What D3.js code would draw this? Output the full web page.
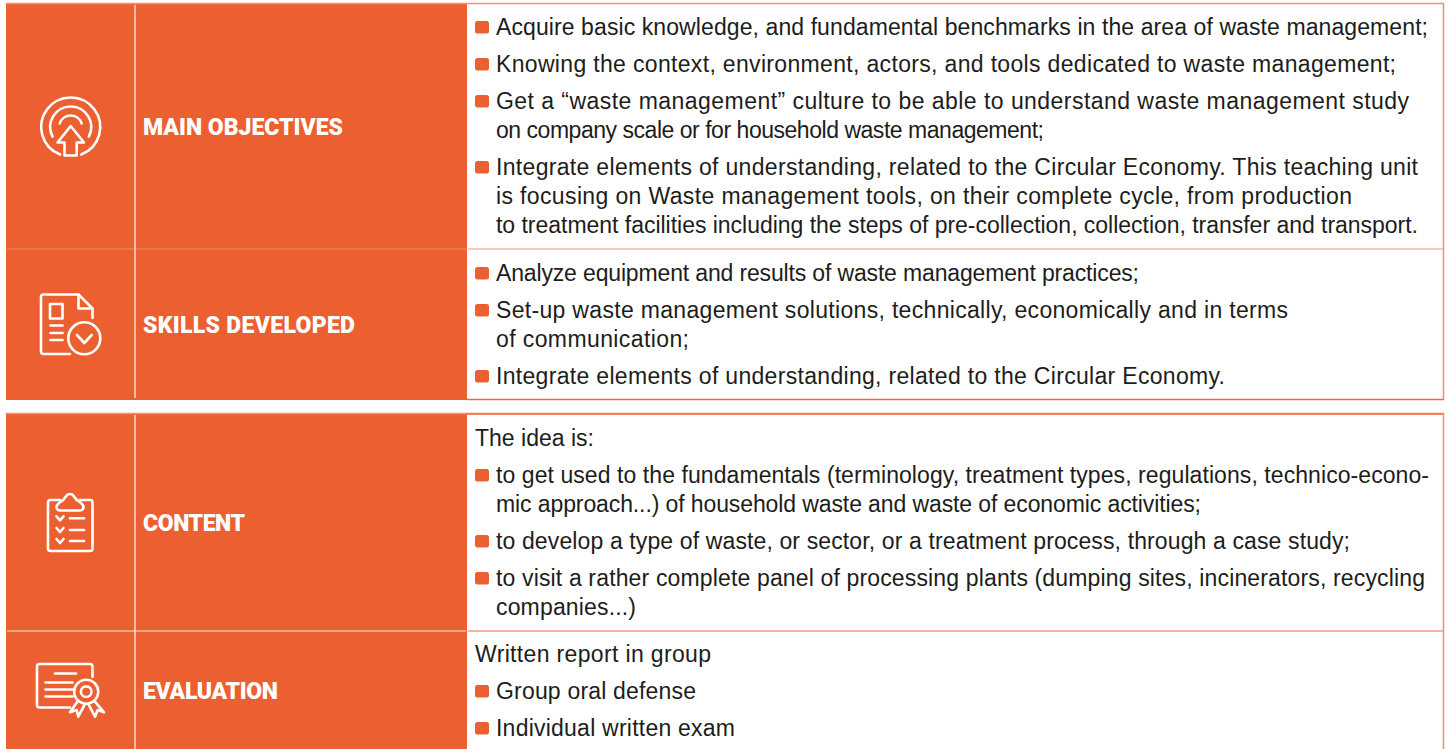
<!DOCTYPE html>
<html>
<head>
<meta charset="utf-8">
<script src="https://cdnjs.cloudflare.com/ajax/libs/d3/7.8.5/d3.min.js"></script>
<style>
  html, body { margin: 0; padding: 0; background: #fff; }
  svg { display: block; }
  .body-line { font-family: "Liberation Sans", sans-serif; font-size: 23px; fill: #1d1d1b; }
  .row-label { font-family: Roboto, sans-serif; font-weight: 900; font-size: 23px; fill: #fff; }
  .icon * { fill: none; stroke: #fff; stroke-width: 2.6; stroke-linecap: round; stroke-linejoin: round; }
</style>
</head>
<body>
<svg id="chart"></svg>
<script>
const containerWidth = 1450;
const containerHeight = 749;

const orange = "#ec5f31";
const borderLight = "#f29272";

// row labels, top to bottom
const rowLabels = ["MAIN OBJECTIVES", "SKILLS DEVELOPED", "CONTENT", "EVALUATION"];
const labelEnds = [343, 355, 245, 278];

// one list per row
const objectivesLines = [
  "Acquire basic knowledge, and fundamental benchmarks in the area of waste management;",
  "Knowing the context, environment, actors, and tools dedicated to waste management;",
  "Get a “waste management” culture to be able to understand waste management study",
  "on company scale or for household waste management;",
  "Integrate elements of understanding, related to the Circular Economy. This teaching unit",
  "is focusing on Waste management tools, on their complete cycle, from production",
  "to treatment facilities including the steps of pre-collection, collection, transfer and transport."
];
const skillsLines = [
  "Analyze equipment and results of waste management practices;",
  "Set-up waste management solutions, technically, economically and in terms",
  "of communication;",
  "Integrate elements of understanding, related to the Circular Economy."
];
const contentLines = [
  "The idea is:",
  "to get used to the fundamentals (terminology, treatment types, regulations, technico-econo-",
  "mic approach...) of household waste and waste of economic activities;",
  "to develop a type of waste, or sector, or a treatment process, through a case study;",
  "to visit a rather complete panel of processing plants (dumping sites, incinerators, recycling",
  "companies...)"
];
const evaluationLines = [
  "Written report in group",
  "Group oral defense",
  "Individual written exam"
];

// b = bullet paragraph start, c = continuation line, p = plain paragraph without bullet
const objectivesKinds = ["b", "b", "b", "c", "b", "c", "c"];
const skillsKinds = ["b", "b", "c", "b"];
const contentKinds = ["p", "b", "c", "b", "b", "c"];
const evaluationKinds = ["p", "b", "b"];

// right end of each line as measured on the picture
const objectivesEnds = [1428, 1396, 1409, 1044, 1418, 1352, 1418];
const skillsEnds = [1139, 1288, 689, 1225];
const contentEnds = [594, 1429, 1201, 1350, 1425, 636];
const evaluationEnds = [711, 696, 735];

const rowLines = [objectivesLines, skillsLines, contentLines, evaluationLines];
const rowKinds = [objectivesKinds, skillsKinds, contentKinds, evaluationKinds];
const rowEnds = [objectivesEnds, skillsEnds, contentEnds, evaluationEnds];

// layout
const rowTops = [4, 249, 414, 631];
const rowBottoms = [249, 400, 631, 749];
const firstLineY = [27, 273, 438, 654];
const labelY = [127, 325, 523, 691];
const col = {left: 6, icon: 135, label: 467, right: 1443};
const linePitch = 29;
const paraGap = 8;

const svg = d3.select("#chart")
  .attr("width", containerWidth)
  .attr("height", containerHeight);

// orange blocks
svg.selectAll("rect.block")
  .data(rowLabels)
  .join("rect")
  .attr("class", "block")
  .attr("x", col.left)
  .attr("y", (d, i) => rowTops[i])
  .attr("width", col.label - col.left)
  .attr("height", (d, i) => rowBottoms[i] - rowTops[i])
  .attr("fill", orange);

// outer frames of the two tables
[[4, 400], [414, 749]].forEach(([top, bottom]) => {
  svg.append("path")
    .attr("d", `M${col.left - 0.5},${top - 0.5}H${col.right + 0.5}V${bottom}`)
    .attr("fill", "none")
    .attr("stroke", borderLight)
    .attr("stroke-width", 1.6);
});
svg.append("line")
  .attr("x1", col.label).attr("x2", col.right + 1)
  .attr("y1", 399.5).attr("y2", 399.5)
  .attr("stroke", "#ee693c").attr("stroke-width", 1.6);
svg.append("line")
  .attr("x1", col.label).attr("x2", col.right)
  .attr("y1", 414).attr("y2", 414)
  .attr("stroke", "#f46a3c").attr("stroke-width", 1.4);

// row separators on the text side
[[249, borderLight], [631, "#f4693a"]].forEach(([y, c]) => {
  svg.append("line")
    .attr("x1", col.label + 1).attr("x2", col.right)
    .attr("y1", y).attr("y2", y)
    .attr("stroke", c).attr("stroke-width", 1.2);
});
// row separators inside the orange part
[[249, "#f08a68"], [631, "#fbe3da"]].forEach(([y, c]) => {
  svg.append("line")
    .attr("x1", col.left + 1).attr("x2", col.label - 1)
    .attr("y1", y).attr("y2", y)
    .attr("stroke", c).attr("stroke-width", 1.2);
});
// white rule between icon and label
[[5, 398], [415, 749]].forEach(([top, bottom]) => {
  svg.append("line")
    .attr("x1", col.icon).attr("x2", col.icon)
    .attr("y1", top).attr("y2", bottom)
    .attr("stroke", "#fbe3da").attr("stroke-width", 1.4);
});

svg.selectAll("text.row-label")
  .data(rowLabels)
  .join("text")
  .attr("class", "row-label")
  .attr("x", 143)
  .attr("y", (d, i) => labelY[i])
  .attr("dy", "0.36em")
  .attr("textLength", (d, i) => labelEnds[i] - 143)
  .attr("lengthAdjust", "spacing")
  .text(d => d);

// body text
rowLines.forEach((lines, r) => {
  let y = firstLineY[r];
  lines.forEach((line, i) => {
    const kind = rowKinds[r][i];
    if (i > 0) y += linePitch + (kind === "c" ? 0 : paraGap);
    const x = kind === "p" ? 475 : 496;
    svg.append("text")
      .attr("class", "body-line")
      .attr("x", x)
      .attr("y", y)
      .attr("dy", "0.36em")
      .attr("textLength", rowEnds[r][i] - x)
      .attr("lengthAdjust", "spacing")
      .text(line);
    if (kind === "b") {
      svg.append("rect")
        .attr("x", 475).attr("y", y - 6)
        .attr("width", 14).attr("height", 12.5)
        .attr("rx", 2.5)
        .attr("fill", orange);
    }
  });
});

// icons
const ring = (r, a0, a1) => d3.arc().innerRadius(r).outerRadius(r).startAngle(a0).endAngle(a1)();
const deg = Math.PI / 180;

const targetIcon = svg.append("g").attr("class", "icon");
const rings = targetIcon.append("g").attr("transform", "translate(70.7,127)");
rings.append("path").attr("d", ring(29.5, -159 * deg, 159 * deg));
rings.append("path").attr("d", ring(20.5, -118 * deg, 118 * deg));
rings.append("path").attr("d", ring(11.5, -72 * deg, 72 * deg));
targetIcon.append("path").attr("d", "M70.7,126L57.5,142.5H64.5V155.5H76.7V142.5H84Z");

const docIcon = svg.append("g").attr("class", "icon");
docIcon.append("path").attr("d", "M70,354H43.5Q41,354 41,351.5V297Q41,294.5 43.5,294.5H78.5L92.5,308.5V318");
docIcon.append("path").attr("d", "M78.5,294.5V308.5H92.5");
docIcon.append("rect").attr("x", 50).attr("y", 304).attr("width", 12.5).attr("height", 14.5);
[325.5, 333, 340].forEach(y => docIcon.append("path").attr("d", `M50.5,${y}H62.5`));
docIcon.append("circle").attr("cx", 84.3).attr("cy", 338.3).attr("r", 16);
docIcon.append("path").attr("d", "M77,335L84.3,343L91.7,335");

const clipIcon = svg.append("g").attr("class", "icon");
clipIcon.append("path").attr("d", "M60,500H50.5Q48,500 48,502.5V548.5Q48,551 50.5,551H90Q92.5,551 92.5,548.5V502.5Q92.5,500 90,500H80");
clipIcon.append("path").attr("d", "M66,496.5A4.5,4.5 0 0 1 74,496.5Q76,500 81,503Q84.5,506 83,509Q82,510.5 80,510.5H60Q58,510.5 57,509Q55.5,506 59,503Q64,500 66,496.5Z");
[518.3, 530, 541].forEach(y => {
  clipIcon.append("path").attr("d", `M56.5,${y - 2}L60,${y + 2}L63.5,${y - 2}`);
  clipIcon.append("path").attr("d", `M70,${y}H84`);
});

const certIcon = svg.append("g").attr("class", "icon");
certIcon.append("path").attr("d", "M70,707.5H39.5Q37,707.5 37,705V666.5Q37,664 39.5,664H90Q92.5,664 92.5,666.5V677");
certIcon.append("path").attr("d", "M55,673.5H76");
[682.5, 689.5, 696.5].forEach(y => certIcon.append("path").attr("d", `M45.5,${y}H72.5`));
certIcon.append("circle").attr("cx", 86.2).attr("cy", 691.7).attr("r", 12);
certIcon.append("circle").attr("cx", 86.2).attr("cy", 691.7).attr("r", 5.3);
certIcon.append("path").attr("d", "M77.3,701.7L70,712.3L76.7,710L78.3,716.7L85,703.8");
certIcon.append("path").attr("d", "M95,701.7L104,712.3L97.7,710L95,716.7L88.3,703.8");
</script>
</body>
</html>
